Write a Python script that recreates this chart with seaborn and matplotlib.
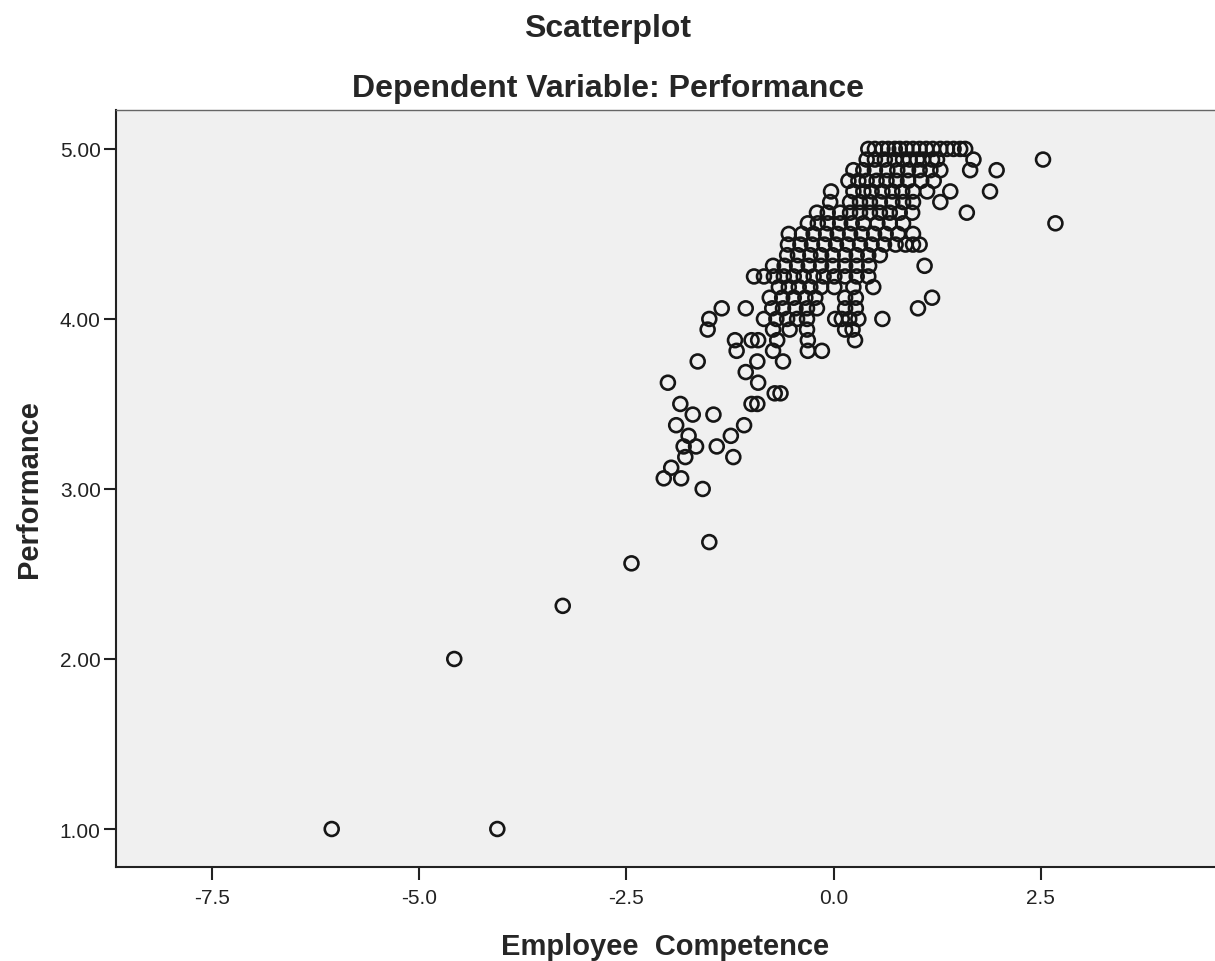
import matplotlib
matplotlib.use("Agg")
import matplotlib.pyplot as plt
import seaborn as sns
import pandas as pd

# Performance scores (mean of 16 items, so steps of 1/16) and the
# Employee Competence scores observed at each level.
performance_levels = [
    5.0, 4.9375, 4.875, 4.8125, 4.75, 4.6875, 4.625, 4.5625, 4.5, 4.4375,
    4.375, 4.3125, 4.25, 4.1875, 4.125, 4.0625, 4.0, 3.9375, 3.875, 3.8125,
    3.75, 3.6875, 3.625, 3.5625, 3.5, 3.4375, 3.375, 3.3125, 3.25, 3.1875,
    3.125, 3.0625, 3.0, 2.6875, 2.5625, 2.3125, 2.0, 1.0,
]
competence_by_level = [
    [0.42, 0.50, 0.59, 0.66, 0.74, 0.80, 0.88, 0.96, 1.04, 1.12, 1.20, 1.29, 1.37, 1.45, 1.53, 1.59],
    [0.40, 0.50, 0.62, 0.74, 0.84, 0.92, 1.01, 1.08, 1.19, 1.25, 1.69, 2.53],
    [0.24, 0.36, 0.50, 0.65, 0.77, 0.90, 1.04, 1.17, 1.29, 1.65, 1.97],
    [0.18, 0.30, 0.40, 0.52, 0.64, 0.76, 0.90, 1.06, 1.21],
    [-0.03, 0.24, 0.36, 0.46, 0.59, 0.71, 0.83, 0.96, 1.13, 1.41, 1.89],
    [-0.04, 0.20, 0.32, 0.44, 0.56, 0.71, 0.84, 0.96, 1.29],
    [-0.20, -0.07, 0.08, 0.20, 0.32, 0.44, 0.56, 0.68, 0.80, 0.95, 1.61],
    [-0.31, -0.19, -0.07, 0.08, 0.22, 0.36, 0.53, 0.68, 0.84, 2.68],
    [-0.54, -0.38, -0.24, -0.09, 0.05, 0.20, 0.34, 0.49, 0.63, 0.78, 0.96],
    [-0.55, -0.40, -0.26, -0.11, 0.03, 0.17, 0.32, 0.46, 0.61, 0.75, 0.87, 0.96, 1.04],
    [-0.56, -0.43, -0.28, -0.15, -0.01, 0.14, 0.28, 0.42, 0.56],
    [-0.73, -0.59, -0.44, -0.30, -0.15, -0.01, 0.14, 0.28, 0.43, 1.10],
    [-0.96, -0.84, -0.72, -0.60, -0.48, -0.36, -0.24, -0.12, 0.01, 0.14, 0.28, 0.42],
    [-0.66, -0.54, -0.42, -0.28, -0.15, 0.01, 0.24, 0.48],
    [-0.77, -0.62, -0.48, -0.34, -0.22, 0.14, 0.27, 1.19],
    [-1.35, -1.06, -0.74, -0.61, -0.46, -0.32, -0.20, 0.14, 0.27, 1.02],
    [-1.50, -0.84, -0.69, -0.56, -0.44, -0.32, 0.02, 0.10, 0.19, 0.30, 0.59],
    [-1.52, -0.73, -0.53, -0.32, 0.14, 0.23],
    [-1.19, -0.99, -0.91, -0.68, -0.31, 0.26],
    [-1.17, -0.73, -0.31, -0.14],
    [-1.64, -0.92, -0.61],
    [-1.06],
    [-2.00, -0.91],
    [-0.71, -0.64],
    [-1.85, -0.99, -0.92],
    [-1.70, -1.45],
    [-1.90, -1.08],
    [-1.75, -1.24],
    [-1.81, -1.66, -1.41],
    [-1.79, -1.21],
    [-1.96],
    [-2.05, -1.84],
    [-1.58],
    [-1.50],
    [-2.44],
    [-3.27],
    [-4.58],
    [-6.06, -4.06],
]

x_ticks = [-7.5, -5.0, -2.5, 0.0, 2.5]
y_ticks = [1.0, 2.0, 3.0, 4.0, 5.0]

rows = []
for level, xs in zip(performance_levels, competence_by_level):
    for x in xs:
        rows.append({"Employee Competence": x, "Performance": level})
df = pd.DataFrame(rows)

sns.set_style("white", {"axes.facecolor": "#F0F0F0"})
plt.rcParams["font.family"] = ["Liberation Sans", "DejaVu Sans"]

fig = plt.figure(figsize=(12.15, 9.62), dpi=100)
ax = fig.add_axes([116 / 1215, 1 - 868 / 962, 1 - 116 / 1215, (868 - 111) / 962])

sns.scatterplot(
    data=df, x="Employee Competence", y="Performance", ax=ax,
    marker="o", s=100, facecolor="none", edgecolor="#161616", linewidth=1.9,
)

ax.set_xlim(-8.665, 4.607)
ax.set_ylim(0.7765, 5.229)
ax.set_xticks(x_ticks)
ax.set_xticklabels([f"{t:.1f}" for t in x_ticks])
ax.set_yticks(y_ticks)
ax.set_yticklabels([f"{t:.2f}" for t in y_ticks])
ax.tick_params(axis="both", which="major", bottom=True, left=True,
               direction="out", length=9, width=1.5, color="#222222",
               labelsize=15, labelcolor="#222222")
ax.tick_params(axis="x", pad=6)
ax.tick_params(axis="y", pad=2)

for side in ("left", "bottom"):
    ax.spines[side].set_color("#222222")
    ax.spines[side].set_linewidth(1.5)
ax.spines["top"].set_color("#666666")
ax.spines["top"].set_linewidth(1.0)
ax.spines["right"].set_visible(False)

ax.set_xlabel("Employee  Competence", fontsize=21, fontweight="bold", labelpad=18)
ax.set_ylabel("Performance", fontsize=21, fontweight="bold", labelpad=12)

fig.text(0.5, 1 - 29 / 962, "Scatterplot", ha="center", va="center",
         fontsize=23, fontweight="bold")
fig.text(0.5, 1 - 89 / 962, "Dependent Variable: Performance", ha="center",
         va="center", fontsize=23, fontweight="bold")

fig.savefig("out.png", dpi=100, facecolor="white")
